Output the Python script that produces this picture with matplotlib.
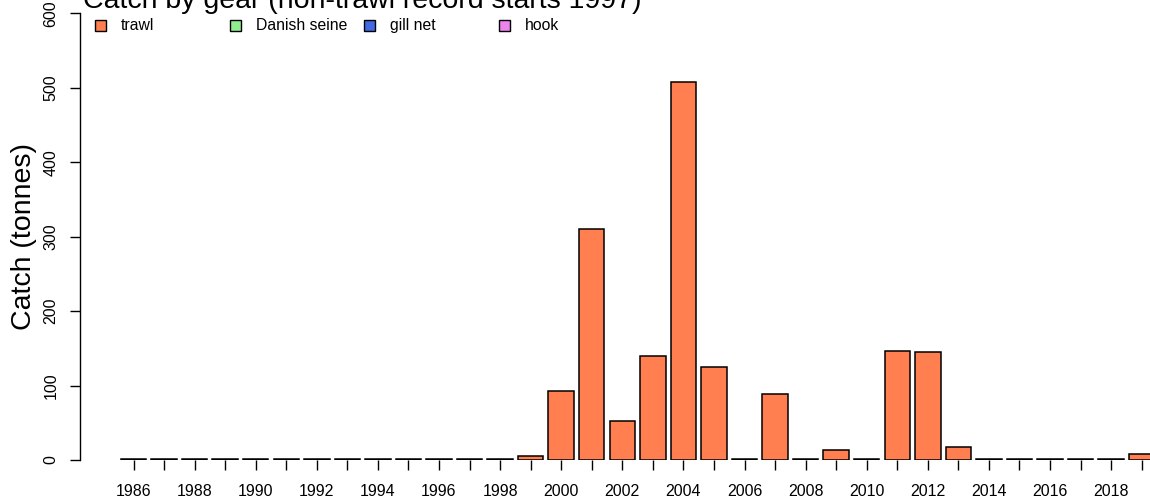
import numpy as np
import matplotlib
matplotlib.use("Agg")
import matplotlib.pyplot as plt
from matplotlib.patches import Rectangle

plt.rcParams["font.family"] = ["Liberation Sans", "DejaVu Sans"]

# data (tonnes)
years = np.arange(1986, 2020)
trawl = [0.9, 0.9, 0.9, 0.9, 0.9, 0.9, 0.9, 0.9, 1.2, 0.9, 0.9, 0.9, 0.9,
         5, 93, 310, 52, 140, 508, 125, 1.0, 89, 0.9, 14, 0.9, 147, 145, 17,
         1.0, 1.0, 1.0, 0.9, 0.9, 8]
gears = ["trawl", "Danish seine", "gill net", "hook"]
gear_cols = ["#FF7F50", "#90EE90", "#4169E1", "#EE82EE"]
y_ticks = [0, 100, 200, 300, 400, 500, 600]

W, H = 1150, 504
fig = plt.figure(figsize=(W / 100, H / 100), dpi=100)

# plot region in pixels: left edge 80, y=0 at 460, y=600 at 13.5
px_per_year = 30.55
x_left = 1986 - (133.5 - 80) / px_per_year
x_right = 2020.6
ax_w = (x_right - x_left) * px_per_year
ax = fig.add_axes([80 / W, 44 / H, ax_w / W, 446.5 / H])

ax.bar(years, trawl, width=0.833, color=gear_cols[0], edgecolor="black",
       linewidth=1.1, zorder=2)

ax.set_xlim(x_left, x_right)
ax.set_ylim(0, 600)
for s in ["top", "right", "bottom"]:
    ax.spines[s].set_visible(False)
ax.spines["left"].set_linewidth(1.0)
ax.spines["left"].set_bounds(0, 600)

ax.set_xticks(years)
ax.set_xticklabels([str(y) if (y - 1986) % 2 == 0 else "" for y in years])
ax.tick_params(axis="x", length=7, width=1, pad=10, labelsize=11.5)
ax.set_yticks(y_ticks)
ax.set_yticklabels([str(v) for v in y_ticks], rotation=90, va="center")
ax.tick_params(axis="y", length=7, width=1, pad=8.3, labelsize=11.5)

fig.text(24 / W, 1 - 236 / H, "Catch (tonnes)", fontsize=20.5, rotation=90,
         ha="center", va="center")
fig.text(83 / W, 1 - 8.5 / H, "Catch by gear (non-trawl record starts 1997)",
         fontsize=20.5, ha="left", va="baseline")

# legend laid out in equal columns, like the R original
for i, (g, c) in enumerate(zip(gears, gear_cols)):
    xc = 100.5 + i * 134.7
    fig.patches.append(Rectangle(((xc - 5.5) / W, 1 - 31 / H), 11 / W, 11 / H,
                                 transform=fig.transFigure, facecolor=c,
                                 edgecolor="black", linewidth=1.0))
    fig.text((xc + 20.5) / W, 1 - 25.5 / H, g, fontsize=11.3, ha="left", va="center")

fig.savefig("out.png", dpi=100)
